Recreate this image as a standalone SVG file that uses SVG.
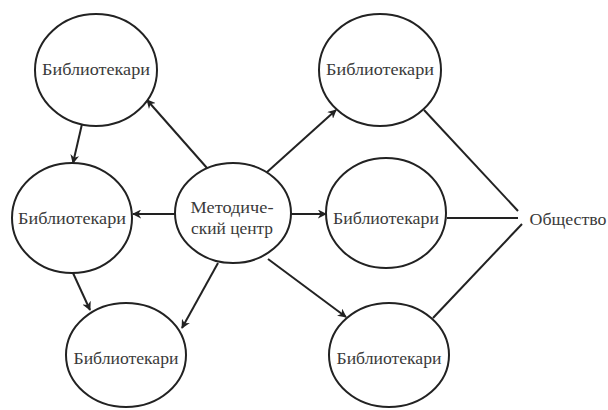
<svg xmlns="http://www.w3.org/2000/svg" width="608" height="410" viewBox="0 0 608 410">
<style>
.n ellipse{fill:#fff;stroke:#222;stroke-width:2}
text{font-family:"Times New Roman","Liberation Serif",Tinos,"DejaVu Serif","Noto Serif",serif;font-size:16px;fill:#3a3a3a;text-anchor:middle;dominant-baseline:central}
.c line{stroke:#222;stroke-width:2}
</style>
<defs>
<marker id="a" viewBox="0 0 10 10" refX="9" refY="5" markerWidth="9" markerHeight="9" markerUnits="userSpaceOnUse" orient="auto">
<path d="M0,0 L10,5 L0,10 L3,5 Z" fill="#222"/>
</marker>
</defs>
<rect width="608" height="410" fill="#fff"/>
<g class="c">
<line x1="82" y1="124" x2="73" y2="163" marker-end="url(#a)"/>
<line x1="207" y1="168" x2="147" y2="100" marker-end="url(#a)"/>
<line x1="266" y1="173" x2="336" y2="110" marker-end="url(#a)"/>
<line x1="175" y1="214" x2="133" y2="214" marker-end="url(#a)"/>
<line x1="291" y1="214" x2="326" y2="214" marker-end="url(#a)"/>
<line x1="218" y1="263" x2="182" y2="328" marker-end="url(#a)"/>
<line x1="268" y1="259" x2="346" y2="317" marker-end="url(#a)"/>
<line x1="73" y1="273" x2="90" y2="310" marker-end="url(#a)"/>
<line x1="424" y1="110" x2="518" y2="211"/>
<line x1="447" y1="218" x2="518" y2="218"/>
<line x1="433" y1="318" x2="522" y2="224"/>
</g>
<g id="n1" class="n"><ellipse cx="96" cy="70" rx="61" ry="56"/><text x="96" y="69" textLength="108" lengthAdjust="spacingAndGlyphs">Библиотекари</text></g>
<g id="n2" class="n"><ellipse cx="72" cy="218" rx="60" ry="55"/><text x="72" y="218" textLength="108" lengthAdjust="spacingAndGlyphs">Библиотекари</text></g>
<g id="n3" class="n"><ellipse cx="126" cy="355" rx="60" ry="52"/><text x="126" y="358" textLength="105" lengthAdjust="spacingAndGlyphs">Библиотекари</text></g>
<g id="center" class="n"><ellipse cx="233" cy="213" rx="58" ry="50"/><text x="232" y="207" textLength="83" lengthAdjust="spacingAndGlyphs">Методиче-</text><text x="232" y="228" textLength="82" lengthAdjust="spacingAndGlyphs">ский центр</text></g>
<g id="n4" class="n"><ellipse cx="380" cy="70" rx="61" ry="56"/><text x="380" y="69" textLength="108" lengthAdjust="spacingAndGlyphs">Библиотекари</text></g>
<g id="n5" class="n"><ellipse cx="386" cy="213" rx="60" ry="55"/><text x="386" y="218" textLength="106" lengthAdjust="spacingAndGlyphs">Библиотекари</text></g>
<g id="n6" class="n"><ellipse cx="389" cy="355" rx="60" ry="52"/><text x="389" y="358" textLength="105" lengthAdjust="spacingAndGlyphs">Библиотекари</text></g>
<g id="society"><text x="568" y="219" textLength="77" lengthAdjust="spacingAndGlyphs">Общество</text></g>
</svg>
